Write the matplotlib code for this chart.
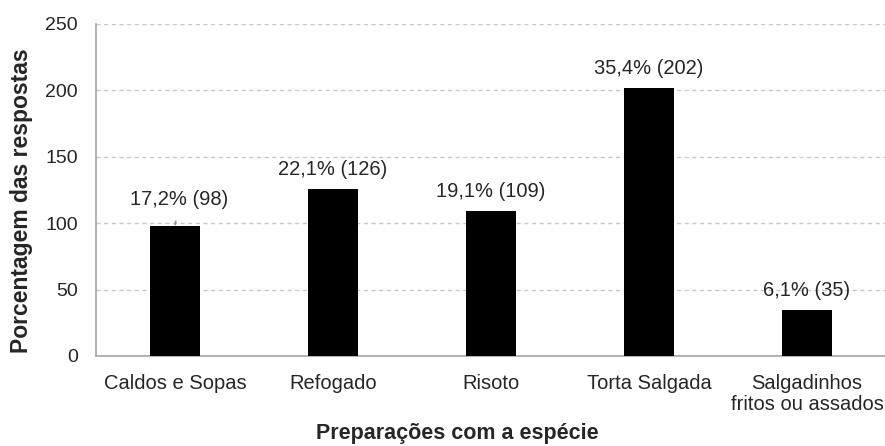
import matplotlib
matplotlib.use("Agg")
import matplotlib.pyplot as plt
import numpy as np

categorias = ["Caldos e Sopas", "Refogado", "Risoto", "Torta Salgada",
              "Salgadinhos\nfritos ou assados"]
respostas = [98, 126, 109, 202, 35]
percentuais = ["17,2%", "22,1%", "19,1%", "35,4%", "6,1%"]
yticks = [0, 50, 100, 150, 200, 250]

plt.rcParams["font.family"] = ["Liberation Sans", "DejaVu Sans"]
txt = "#262626"

fig = plt.figure(figsize=(8.85, 4.46), dpi=100)
ax = fig.add_axes([96 / 885, 90 / 446, 790 / 885, 332 / 446])

x = np.arange(len(categorias))
ax.bar(x, respostas, width=0.32, color="black", zorder=3)

ax.set_xlim(-0.5, len(categorias) - 0.5)
ax.set_ylim(0, 250)
ax.set_yticks(yticks)
ax.set_xticks(x)
ax.set_xticklabels(categorias, fontsize=14.5, color=txt, linespacing=1.1)
ax.tick_params(axis="x", length=0, pad=13)
ax.tick_params(axis="y", length=0, pad=13, labelsize=14, labelcolor=txt)

ax.yaxis.grid(True, linestyle=(0, (3, 2.5)), color="#c8c8c8", linewidth=1, zorder=0)
for s in ("top", "right"):
    ax.spines[s].set_visible(False)
for s in ("left", "bottom"):
    ax.spines[s].set_color("#a6a6a6")
    ax.spines[s].set_linewidth(1.2)

# value labels: "pct (n)" above each bar; the first one sits higher with a leader line
for i, (n, p) in enumerate(zip(respostas, percentuais)):
    rot = f"{p} ({n})"
    if i == 0:
        ax.annotate(rot, xy=(i, n), xytext=(3, 19), textcoords="offset points",
                    ha="center", va="center", fontsize=14.5, color=txt,
                    arrowprops=dict(arrowstyle="-", color="#909090", lw=1.2,
                                    shrinkA=7, shrinkB=1))
    else:
        ax.annotate(rot, xy=(i, n), xytext=(0, 14), textcoords="offset points",
                    ha="center", va="center", fontsize=14.5, color=txt)

fig.text(457 / 885, 1 - 433 / 446, "Preparações com a espécie", ha="center",
         va="center", fontsize=15.5, fontweight="bold", color=txt)
fig.text(22 / 885, 1 - 201 / 446, "Porcentagem das respostas", ha="center",
         va="center", rotation=90, fontsize=16.5, fontweight="bold", color=txt)

fig.savefig("out.png", dpi=100)
